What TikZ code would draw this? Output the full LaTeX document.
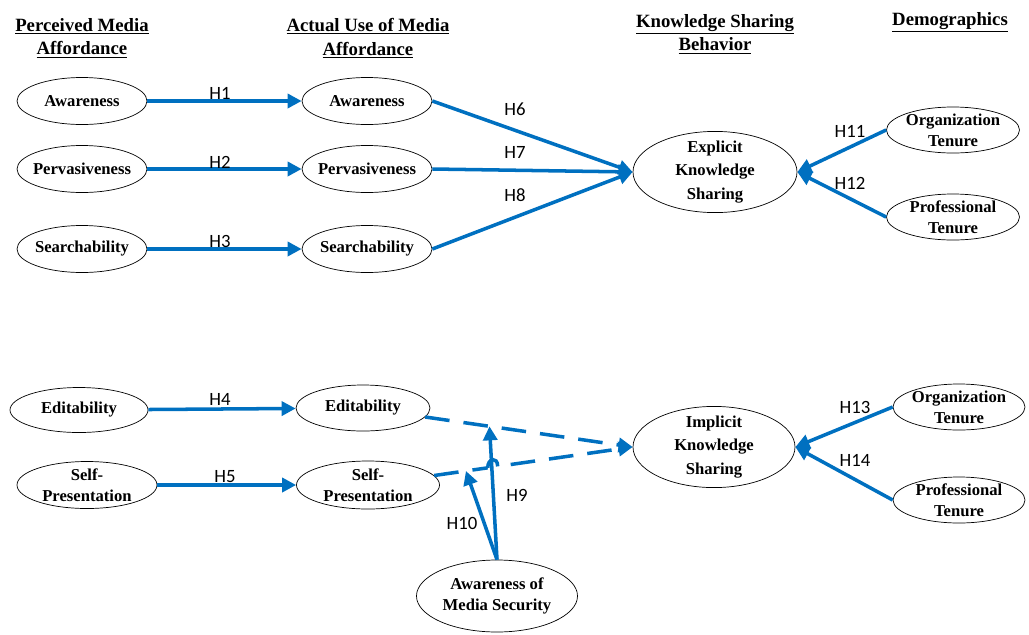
\documentclass[tikz,border=0pt]{standalone}
\usepackage{fontspec}
\setmainfont{Liberation Serif}
\newfontfamily\hfont{Carlito}
\usetikzlibrary{shapes.geometric}
\usetikzlibrary{arrows.meta}
\usetikzlibrary{calc}
\definecolor{bluln}{RGB}{0,112,192}
\tikzset{ell/.style={ellipse,draw,line width=0.6pt,inner xsep=-5pt,inner ysep=-2pt,align=center,
            font=\fontsize{14.2}{18}\selectfont\bfseries},
         hd/.style={align=center,font=\fontsize{16}{20}\selectfont\bfseries},
         lab/.style={font=\hfont\fontsize{16}{18}\selectfont},
         bl/.style={line width=3pt,bluln},
         ar/.style={bl,-{Triangle[length=12pt,width=12pt]}},
         dsh/.style={bl,dash pattern=on 21pt off 12pt}
         }

\begin{document}
\begin{tikzpicture}[x=0.03cm,y=-0.03cm]
        \useasboundingbox (0,0) rectangle (1029,634);
        % column headings
        \node[hd] (hPMA) at (82,38) {\underline{Perceived Media}\\\underline{Affordance}};
        \node[hd] (hAUM) at (368,38) {\underline{Actual Use of Media}\\\underline{Affordance}};
        \node[hd] (hKSB) at (715,34) {\underline{Knowledge Sharing}\\\underline{Behavior}};
        \node[hd] (hDem) at (950,22) {\underline{Demographics}};

        % explicit part
        \node[ell, minimum width=3.9cm, minimum height=1.41cm] (pA) at (82,101) {Awareness};
        \node[ell, minimum width=3.9cm, minimum height=1.41cm] (pP) at (82,169) {Pervasiveness};
        \node[ell, minimum width=3.9cm, minimum height=1.41cm] (pS) at (82,249) {Searchability};
        \node[ell, minimum width=3.9cm, minimum height=1.41cm] (aA) at (367,101) {Awareness};
        \node[ell, minimum width=3.9cm, minimum height=1.41cm] (aP) at (367,169) {Pervasiveness};
        \node[ell, minimum width=3.9cm, minimum height=1.41cm] (aS) at (367,249) {Searchability};
        \node[ell, minimum width=4.92cm, minimum height=2.25cm,
              font=\fontsize{14.2}{20}\selectfont\bfseries] (EKS) at (715,172) {Explicit\\Knowledge\\Sharing};
        \node[ell, minimum width=3.99cm, minimum height=1.38cm] (oT1) at (953,130) {Organization\\Tenure};
        \node[ell, minimum width=3.99cm, minimum height=1.38cm] (prT1) at (953,217) {Professional\\Tenure};

        % implicit part
        \node[ell, minimum width=4.14cm, minimum height=1.35cm] (pE) at (79,410) {Editability};
        \node[ell, minimum width=4.2cm, minimum height=1.41cm] (pSP) at (87,485) {Self-\\Presentation};
        \node[ell, minimum width=4.02cm, minimum height=1.38cm] (aE) at (363,408) {Editability};
        \node[ell, minimum width=4.29cm, minimum height=1.44cm] (aSP) at (368,485) {Self-\\Presentation};
        \node[ell, minimum width=4.86cm, minimum height=2.25cm,
              font=\fontsize{14.2}{20}\selectfont\bfseries] (IKS) at (714,447) {Implicit\\Knowledge\\Sharing};
        \node[ell, minimum width=3.96cm, minimum height=1.38cm] (oT2) at (959,407) {Organization\\Tenure};
        \node[ell, minimum width=3.96cm, minimum height=1.38cm] (prT2) at (959,500) {Professional\\Tenure};
        \node[ell, minimum width=4.83cm, minimum height=2.16cm] (AMS) at (497,596) {Awareness of\\Media Security};

        % hypotheses
        \draw[ar] (pA) -- (aA);
        \draw[ar] (pP) -- (aP);
        \draw[ar] (pS) -- (aS);
        \draw[ar] (aA.east) -- (EKS.west);
        \draw[ar] (aP.east) -- (EKS.west);
        \draw[ar] (aS.east) -- (EKS.west);
        \draw[ar] (oT1.west) -- (EKS.east);
        \draw[ar] (prT1.west) -- (EKS.east);
        \draw[ar] (pE) -- (aE);
        \draw[ar] (pSP) -- (aSP);
        \draw[ar] (oT2.west) -- (IKS.east);
        \draw[ar] (prT2.west) -- (IKS.east);

        \path (aE) -- (IKS.west) coordinate[pos=0.31] (m9);
        \path (aSP) -- (IKS.west) coordinate[pos=0.16] (m10)
              coordinate[pos=0.27] (j1) coordinate[pos=0.32] (j2);
        \draw[dsh, -{Triangle[length=12pt,width=12pt]}] (aE) -- (IKS.west);
        \draw[dsh, -{Triangle[length=12pt,width=12pt]}] (aSP) -- (IKS.west);
        % small jump where H9 crosses
        \draw[white, line width=4pt] (j1) -- (j2);
        \draw[bl] (j1) .. controls ($(j1)+(0,-10)$) and ($(j2)+(0,-10)$) .. (j2);
        \draw[ar] (AMS.north) -- (m9);
        \draw[ar] (AMS.north) -- (m10);

        \node[lab] (l1) at (220,93) {H1};
        \node[lab] (l2) at (220,162) {H2};
        \node[lab] (l3) at (220,241) {H3};
        \node[lab] (l4) at (220,399) {H4};
        \node[lab] (l5) at (225,477) {H5};
        \node[lab] (l6) at (515,109) {H6};
        \node[lab] (l7) at (515,152) {H7};
        \node[lab] (l8) at (515,195) {H8};
        \node[lab] (l9) at (517,495) {H9};
        \node[lab] (l10) at (462,523) {H10};
        \node[lab] (l11) at (850,131) {H11};
        \node[lab] (l12) at (850,183) {H12};
        \node[lab] (l13) at (855,407) {H13};
        \node[lab] (l14) at (855,460) {H14};


    \end{tikzpicture}
\end{document}
